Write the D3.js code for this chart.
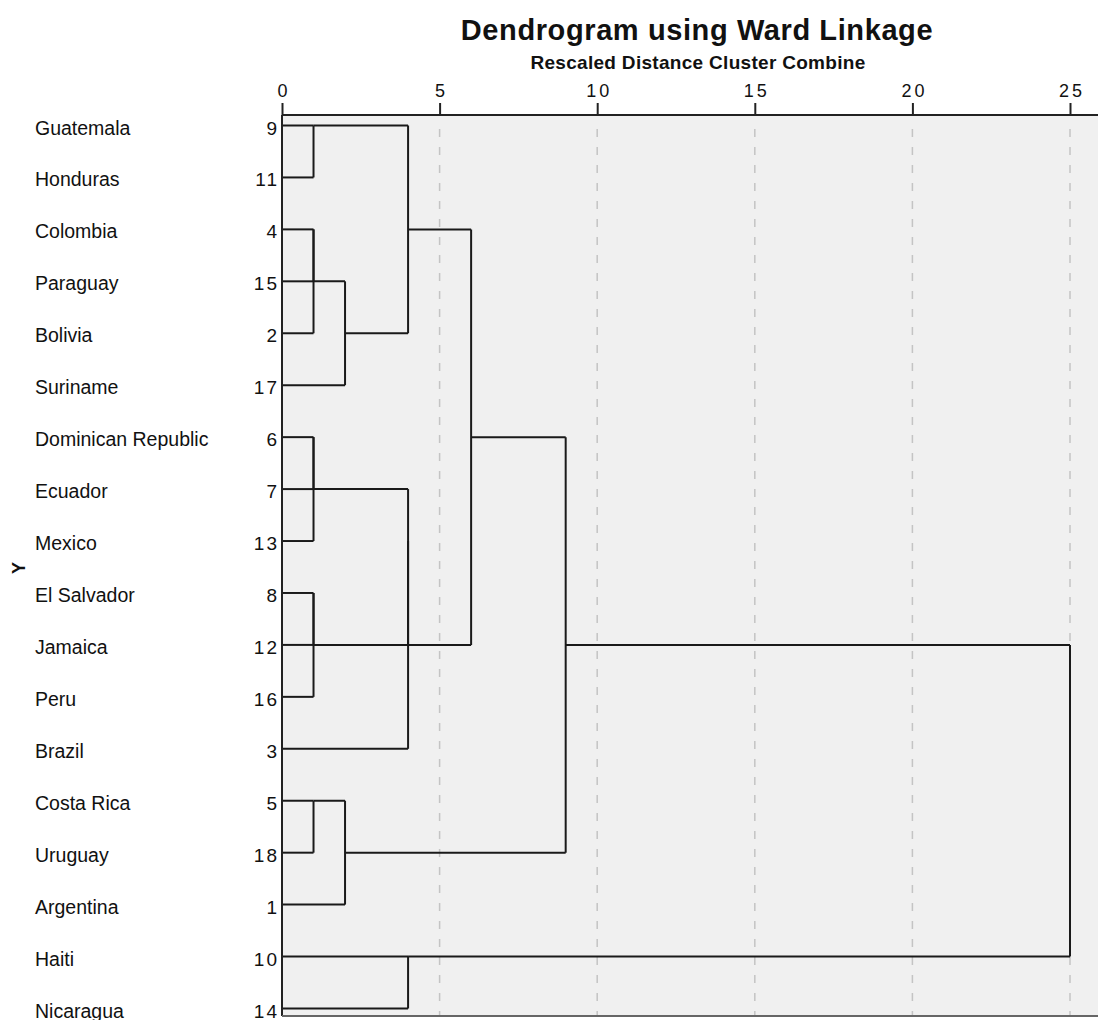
<!DOCTYPE html>
<html lang="en">
<head>
<meta charset="UTF-8">
<title>Dendrogram using Ward Linkage</title>
<script src="https://d3js.org/d3.v7.min.js"></script>
<style>
  body { margin: 0; background: #fff; }
  text { font-family: "Liberation Sans", Arial, sans-serif; fill: #111; }
</style>
</head>
<body>
<script>

// leaves, top to bottom
var countries = ["Guatemala", "Honduras", "Colombia", "Paraguay", "Bolivia", "Suriname",
  "Dominican Republic", "Ecuador", "Mexico", "El Salvador", "Jamaica", "Peru", "Brazil",
  "Costa Rica", "Uruguay", "Argentina", "Haiti", "Nicaragua"];
var caseNumbers = [9, 11, 4, 15, 2, 17, 6, 7, 13, 8, 12, 16, 3, 5, 18, 1, 10, 14];

// merges: [child A, child B, rescaled distance]; ids 0-17 are leaves, 18+ are merges in order
var merges = [
  [0, 1, 1],     // 18
  [2, 3, 1],     // 19
  [19, 4, 1],    // 20
  [20, 5, 2],    // 21
  [18, 21, 4],   // 22
  [6, 7, 1],     // 23
  [23, 8, 1],    // 24
  [9, 10, 1],    // 25
  [25, 11, 1],   // 26
  [24, 26, 4],   // 27
  [27, 12, 4],   // 28
  [22, 28, 6],   // 29
  [13, 14, 1],   // 30
  [30, 15, 2],   // 31
  [29, 31, 9],   // 32
  [16, 17, 4],   // 33
  [32, 33, 25]   // 34
];

var distanceTicks = [0, 5, 10, 15, 20, 25];

var W = 1098, H = 1020;
var plotTop = 115, plotBottom = 1016, plotLeft = 282;

var svg = d3.select("body").append("svg")
    .attr("width", W)
    .attr("height", H);

var x = d3.scaleLinear().domain([0, 25]).range([plotLeft, 1070]);
var y = d3.scaleLinear().domain([0, countries.length - 1]).range([125.5, 1008.5]);

// plot background
svg.append("rect")
    .attr("x", plotLeft).attr("y", plotTop)
    .attr("width", W - plotLeft + 10).attr("height", plotBottom - plotTop)
    .attr("fill", "#f0f0f0");

// dashed grid
svg.append("g").selectAll("line")
  .data(distanceTicks.filter(function(d) { return d > 0; }))
  .enter().append("line")
    .attr("x1", function(d) { return x(d); })
    .attr("x2", function(d) { return x(d); })
    .attr("y1", plotTop + 14).attr("y2", plotBottom)
    .attr("stroke", "#c4c4c4")
    .attr("stroke-width", 1.5)
    .attr("stroke-dasharray", "8,10");

// build node positions and heights
var nodes = [];
countries.forEach(function(c, i) { nodes.push({pos: i, dist: 0, parent: null}); });
merges.forEach(function(m, i) {
  var id = countries.length + i;
  var a = nodes[m[0]], b = nodes[m[1]];
  a.parent = id; b.parent = id;
  nodes.push({pos: Math.floor((a.pos + b.pos) / 2), dist: m[2], parent: null,
              lo: Math.min(a.pos, b.pos), hi: Math.max(a.pos, b.pos)});
});

var tree = svg.append("g")
    .attr("stroke", "#1a1a1a")
    .attr("stroke-width", 2)
    .attr("fill", "none");

// horizontal segments
tree.selectAll("line.h")
  .data(nodes.filter(function(n) { return n.parent !== null && nodes[n.parent].dist > n.dist; }))
  .enter().append("line")
    .attr("class", "h")
    .attr("x1", function(n) { return x(n.dist); })
    .attr("x2", function(n) { return x(nodes[n.parent].dist); })
    .attr("y1", function(n) { return y(n.pos); })
    .attr("y2", function(n) { return y(n.pos); });

// vertical segments
tree.selectAll("line.v")
  .data(nodes.filter(function(n) { return n.lo !== undefined; }))
  .enter().append("line")
    .attr("class", "v")
    .attr("x1", function(n) { return x(n.dist); })
    .attr("x2", function(n) { return x(n.dist); })
    .attr("y1", function(n) { return y(n.lo); })
    .attr("y2", function(n) { return y(n.hi); });

// frame: left and bottom
svg.append("line")
    .attr("x1", plotLeft).attr("x2", plotLeft)
    .attr("y1", plotTop).attr("y2", plotBottom)
    .attr("stroke", "#222").attr("stroke-width", 2);
svg.append("line")
    .attr("x1", plotLeft).attr("x2", W)
    .attr("y1", plotBottom).attr("y2", plotBottom)
    .attr("stroke", "#666").attr("stroke-width", 2);

// top axis
var axis = svg.append("g")
    .attr("transform", "translate(0," + plotTop + ")")
    .call(d3.axisTop(x).tickValues(distanceTicks).tickSize(12).tickPadding(6).tickSizeOuter(0));
axis.select(".domain").remove();
axis.append("line")
    .attr("x1", plotLeft).attr("x2", W)
    .attr("stroke", "#222").attr("stroke-width", 2);
axis.selectAll(".tick line").attr("stroke", "#222").attr("stroke-width", 2);
axis.selectAll(".tick text")
    .attr("font-family", "'Liberation Sans', Arial, sans-serif")
    .attr("font-size", 18)
    .attr("letter-spacing", 3)
    .attr("dx", 1.5)
    .attr("fill", "#111");

// leaf labels
svg.append("g").selectAll("text")
  .data(countries)
  .enter().append("text")
    .attr("x", 35)
    .attr("y", function(d, i) { return y(i) + 9; })
    .attr("font-size", 19.5)
    .text(function(d) { return d; });

svg.append("g").selectAll("text")
  .data(caseNumbers)
  .enter().append("text")
    .attr("x", 279)
    .attr("y", function(d, i) { return y(i) + 9; })
    .attr("text-anchor", "end")
    .attr("font-size", 19)
    .attr("letter-spacing", 2)
    .text(function(d) { return d; });

// titles
svg.append("text")
    .attr("x", 697).attr("y", 40)
    .attr("text-anchor", "middle")
    .attr("font-size", 29)
    .attr("letter-spacing", 0.6)
    .attr("font-weight", "bold")
    .text("Dendrogram using Ward Linkage");

svg.append("text")
    .attr("x", 698).attr("y", 69)
    .attr("text-anchor", "middle")
    .attr("font-size", 19)
    .attr("letter-spacing", 0.3)
    .attr("font-weight", "bold")
    .text("Rescaled Distance Cluster Combine");

svg.append("text")
    .attr("transform", "translate(25,568) rotate(-90)")
    .attr("text-anchor", "middle")
    .attr("font-size", 18)
    .attr("font-weight", "bold")
    .text("Y");

</script>
</body>
</html>
